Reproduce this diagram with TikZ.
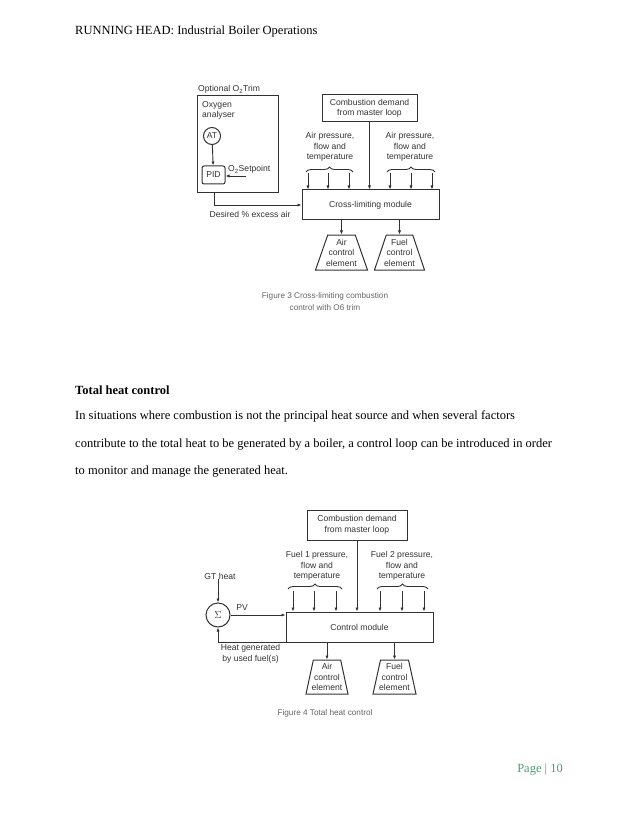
\documentclass[tikz,border=0pt]{standalone}
\usepackage{fontspec}
\setmainfont{Liberation Serif}
\newfontfamily\diagfont{Liberation Sans}
\usetikzlibrary{arrows.meta,shapes.geometric,decorations.pathreplacing}
\definecolor{inkgray}{RGB}{50,50,50}
\definecolor{capgray}{RGB}{100,100,100}
\definecolor{pagegreen}{RGB}{70,160,110}

\begin{document}
\begin{tikzpicture}[x=1pt, y=-1pt,
    every node/.style={inner sep=0pt},
    body/.style={anchor=base west, font=\fontsize{12.5}{15}\selectfont},
    lbl/.style={font=\diagfont\fontsize{8.6}{10.5}\selectfont, text=inkgray, align=center},
    blk/.style={draw=inkgray, line width=1pt, lbl},
    trap/.style={trapezium, draw=inkgray, line width=1pt, inner sep=2pt, trapezium stretches=true},
    flow/.style={draw=inkgray, line width=0.9pt, -{Latex[length=4pt,width=3.2pt]}},
    brc/.style={draw=inkgray, line width=0.9pt, decorate, decoration={brace, amplitude=5pt}},
    figcap/.style={font=\diagfont\fontsize{8.2}{12}\selectfont, text=capgray, align=center}
]
    \useasboundingbox (0,0) rectangle (638,826);

    % Page text
    \node[body] (head) at (75,35) {RUNNING HEAD: Industrial Boiler Operations};
    \node[body, font=\bfseries\fontsize{12.5}{15}\selectfont] (sect) at (75,394) {Total heat control};
    \node[body] (par1) at (75,419) {In situations where combustion is not the principal heat source and when several factors};
    \node[body] (par2) at (75,447) {contribute to the total heat to be generated by a boiler, a control loop can be introduced in order};
    \node[body] (par3) at (75,474) {to monitor and manage the generated heat.};
    \node[body, anchor=base east, text=pagegreen] (pagenum) at (563,772) {Page | 10};

    %%%%%%%%%%%%%%%% Figure 3 %%%%%%%%%%%%%%%%

    % Draw the O2 trim part
    \node[blk, minimum width=81, minimum height=97, anchor=north west] (trimbox) at (197,95) {};
    \node[lbl, anchor=base west] (trimtitle) at (198,92) {Optional O\textsubscript{2}Trim};
    \node[lbl, anchor=north west, align=left] (oxy) at (202,101) {Oxygen\\analyser};
    \node[blk, circle, minimum size=17] (at) at (212,136) {AT};
    \node[blk, rounded corners=2pt, minimum width=23, minimum height=18] (pid) at (213.5,175) {PID};
    \node[lbl, anchor=base west] (sptxt) at (228,172) {O\textsubscript{2}Setpoint};
    \coordinate (spt) at (246,176);
    \coordinate (dstart) at (214,192);

    % Draw demand and module
    \node[blk, minimum width=95, minimum height=27] (demand) at (369.5,108.5) {Combustion demand\\from master loop};
    \node[blk, minimum width=137, minimum height=30] (xlm) at (370.5,205) {Cross-limiting module};
    \node[lbl] (airl) at (330,147) {Air pressure,\\flow and\\temperature};
    \node[lbl] (airr) at (410,147) {Air pressure,\\flow and\\temperature};
    \node[lbl] (desired) at (250,214) {Desired \% excess air};

    % Draw control elements
    \node[trap, trapezium left angle=66, trapezium right angle=66, minimum width=52, minimum height=35] (airel) at (341.5,252.5) {};
    \node[lbl] (airtxt) at (airel.center) {Air\\control\\element};
    \node[trap, trapezium left angle=66, trapezium right angle=66, minimum width=50, minimum height=35] (fuelel) at (399.5,252.5) {};
    \node[lbl] (fueltxt) at (fuelel.center) {Fuel\\control\\element};

    % Draw connectors
    \draw[flow] (at) -- (pid);
    \draw[flow] (spt) -- (spt -| pid.east);
    \draw[flow] (dstart) |- (xlm.west);
    \draw[flow] (demand.south) -- (demand.south |- xlm.north);
    \draw[brc] (306,172) -- (353,172);
    \draw[brc] (387,172) -- (435,172);
    \foreach \x in {308,328,349,390,411,432} {
        \coordinate (b\x) at (\x,173);
        \draw[flow] (b\x) -- (b\x |- xlm.north);
    }
    \draw[flow] (airel.north |- xlm.south) -- (airel.north);
    \draw[flow] (fuelel.north |- xlm.south) -- (fuelel.north);

    \node[figcap] (cap3) at (325,302) {Figure 3 Cross-limiting combustion\\control with O6 trim};

    %%%%%%%%%%%%%%%% Figure 4 %%%%%%%%%%%%%%%%

    % Draw demand and module
    \node[blk, minimum width=100, minimum height=30] (demand2) at (357,525) {Combustion demand\\from master loop};
    \node[blk, minimum width=147, minimum height=30] (cm) at (359.5,627) {Control module};
    \node[lbl] (fuel1) at (317,566) {Fuel 1 pressure,\\flow and\\temperature};
    \node[lbl] (fuel2) at (402,566) {Fuel 2 pressure,\\flow and\\temperature};

    % Draw the heat sum
    \node[lbl] (gt) at (220,576) {GT heat};
    \node[blk, circle, minimum size=24, font=\fontsize{10}{12}\selectfont] (sig) at (218,615) {$\Sigma$};
    \node[lbl] (pv) at (242,608) {PV};
    \node[lbl] (heatgen) at (250.5,654) {Heat generated\\by used fuel(s)};

    % Draw control elements
    \node[trap, trapezium left angle=75, trapezium right angle=75, minimum width=42, minimum height=34] (airel2) at (327,677) {};
    \node[lbl] (airtxt2) at (airel2.center) {Air\\control\\element};
    \node[trap, trapezium left angle=75, trapezium right angle=75, minimum width=43, minimum height=34] (fuelel2) at (394.5,677) {};
    \node[lbl] (fueltxt2) at (fuelel2.center) {Fuel\\control\\element};

    % Draw connectors
    \draw[flow] (gt.south -| sig) -- (sig.north);
    \draw[flow] (sig.east) -- (sig -| cm.west);
    \draw[flow] (cm.south west) -| (sig.south);
    \draw[flow] (demand2.south) -- (demand2.south |- cm.north);
    \draw[brc] (288,589) -- (342,589);
    \draw[brc] (377,589) -- (428,589);
    \foreach \x in {293,314,336,380,402,424} {
        \coordinate (c\x) at (\x,591);
        \draw[flow] (c\x) -- (c\x |- cm.north);
    }
    \draw[flow] (airel2.north |- cm.south) -- (airel2.north);
    \draw[flow] (fuelel2.north |- cm.south) -- (fuelel2.north);

    \node[figcap] (cap4) at (325,713) {Figure 4 Total heat control};
\end{tikzpicture}
\end{document}
